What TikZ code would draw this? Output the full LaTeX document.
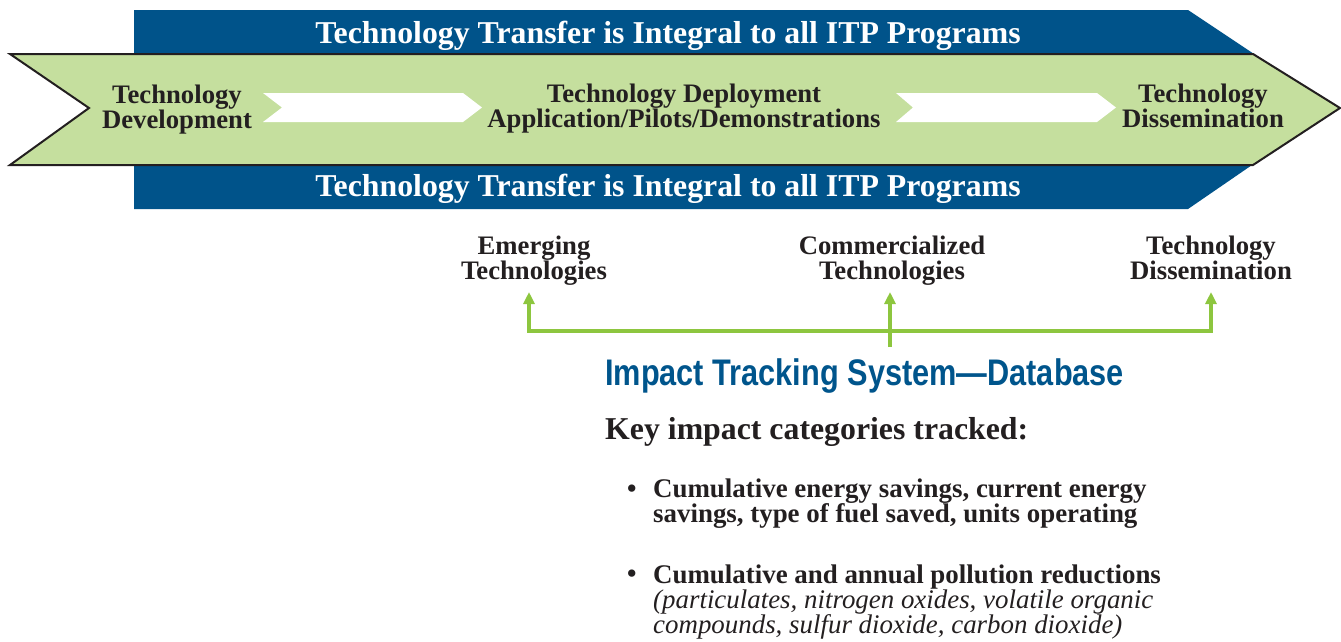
\documentclass[tikz,border=0pt]{standalone}
\usepackage{fontspec}
\setmainfont{Liberation Serif}
\newfontfamily\condsans[FakeStretch=0.83]{Liberation Sans}
\usetikzlibrary{arrows.meta}
\definecolor{bandblue}{HTML}{00538A}
\definecolor{chevgreen}{HTML}{C5DF9E}
\definecolor{linegreen}{HTML}{8DC63F}
\definecolor{inkdark}{HTML}{231F20}
\definecolor{titleblue}{HTML}{00558C}
\begin{document}
\begin{tikzpicture}[x=1pt,y=-1pt,
  bandtext/.style={text=white,font=\fontsize{31.8}{34}\selectfont\bfseries,inner sep=0pt,anchor=base},
  stagetext/.style={text=inkdark,font=\fontsize{26.7}{25}\selectfont\bfseries,align=center,inner sep=0pt,anchor=base},
  glink/.style={draw=linegreen,line width=3.2pt},
  gtip/.style={-{Triangle[width=11pt,length=12pt]}},
  bodytext/.style={text=inkdark,font=\fontsize{26.9}{25}\selectfont,align=left,inner sep=0pt,anchor=base west},
  bulletdot/.style={text=inkdark,font=\fontsize{26.9}{25}\selectfont\bfseries,inner sep=0pt,anchor=base west}]
\useasboundingbox (0,0) rectangle (1341,641);
% blue band
\fill[bandblue] (134,10) -- (1188,10) -- (1335,108) -- (1188,209) -- (134,209) -- cycle;
% green chevron
\filldraw[fill=chevgreen,draw=inkdark,line width=2pt,line join=miter]
  (10,54) -- (1253,54) -- (1340,108) -- (1253,165) -- (10,165) -- (89,108) -- cycle;
% white arrows
\fill[white] (263,93) -- (463,93) -- (482,107.5) -- (463,122) -- (263,122) -- (282,107.5) -- cycle;
\fill[white] (896,93) -- (1097,93) -- (1116,107.5) -- (1097,122) -- (896,122) -- (913,107.5) -- cycle;
% band texts
\node[bandtext] (bandtop) at (668,43) {Technology Transfer is Integral to all ITP Programs};
\node[bandtext] (bandbot) at (668,196) {Technology Transfer is Integral to all ITP Programs};
% stage texts (base anchor = last line)
\node[stagetext] (dev) at (177,128) {Technology\\Development};
\node[stagetext] (depl) at (684,127) {Technology Deployment\\Application/Pilots/Demonstrations};
\node[stagetext] (diss) at (1203,127) {Technology\\Dissemination};
% lower labels
\node[stagetext] (emerg) at (534,279) {Emerging\\Technologies};
\node[stagetext] (comm) at (892,279) {Commercialized\\Technologies};
\node[stagetext] (techdiss) at (1211,279) {Technology\\Dissemination};
% connectors
\coordinate (tE) at (529,292);
\coordinate (tC) at (890,292);
\coordinate (tD) at (1211,292);
\coordinate (hl) at (529,331);
\coordinate (hr) at (1211,331);
\coordinate (hub) at (890,347);
\draw[glink,{Triangle[width=11pt,length=12pt]}-{Triangle[width=11pt,length=12pt]}] (tE) -- (hl) -- (hr) -- (tD);
\draw[glink,gtip] (hub) -- (tC);
% title
\node[text=titleblue,font=\fontsize{37}{40}\selectfont\condsans\bfseries,inner sep=0pt,anchor=base west] (title) at (605,385) {Impact Tracking System—Database};
\node[text=inkdark,font=\fontsize{31.8}{34}\selectfont\bfseries,inner sep=0pt,anchor=base west] (key) at (605,439) {Key impact categories tracked:};
% bullets
\node[bulletdot] (b1) at (627,497) {•};
\node[bodytext,font=\fontsize{26.9}{25}\selectfont\bfseries] (t1) at (653,522) {Cumulative energy savings, current energy\\savings, type of fuel saved, units operating};
\node[bulletdot] (b2) at (627,582) {•};
\node[bodytext] (t2) at (653,633) {\textbf{Cumulative and annual pollution reductions}\\\textit{(particulates, nitrogen oxides, volatile organic}\\\textit{compounds, sulfur dioxide, carbon dioxide)}};
\end{tikzpicture}
\end{document}
